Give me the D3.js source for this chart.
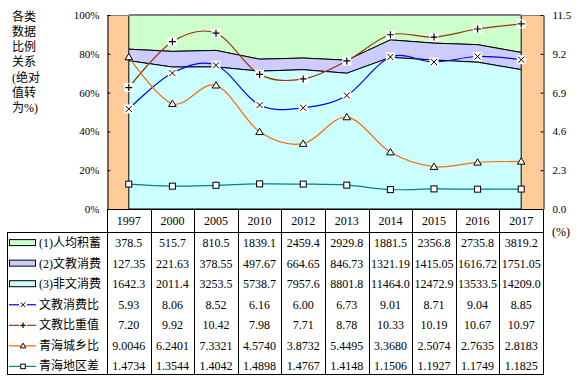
<!DOCTYPE html>
<html><head><meta charset="utf-8">
<script src="https://cdn.jsdelivr.net/npm/d3@7"></script>
<style>
html,body{margin:0;padding:0;background:#fff;}
svg{display:block;}
text{font-family:"Liberation Serif","Times New Roman","Noto Sans CJK SC",serif;fill:#000;}
.cjk{font-family:"Liberation Serif","Noto Sans CJK SC",serif;}
</style>
</head><body>
<svg id="chart" width="582" height="380"></svg>
<script>
const years = ['1997','2000','2005','2010','2012','2013','2014','2015','2016','2017'];
const savings    = [378.5,515.7,810.5,1839.1,2459.4,2929.8,1881.5,2356.8,2735.8,3819.2];
const eduSpend   = [127.35,221.63,378.55,497.67,664.65,846.73,1321.19,1415.05,1616.72,1751.05];
const otherSpend = [1642.3,2011.4,3253.5,5738.7,7957.6,8801.8,11464.0,12472.9,13533.5,14209.0];
const eduRatio   = [5.93,8.06,8.52,6.16,6.00,6.73,9.01,8.71,9.04,8.85];
const eduWeight  = [7.20,9.92,10.42,7.98,7.71,8.78,10.33,10.19,10.67,10.97];
const urbanRural = [9.0046,6.2401,7.3321,4.5740,3.8732,5.4495,3.3680,2.5074,2.7635,2.8183];
const regionGap  = [1.4734,1.3544,1.4042,1.4898,1.4767,1.4148,1.1506,1.1927,1.1749,1.1825];
const leftTicks  = [0,0.2,0.4,0.6,0.8,1.0];
const rightTicks = [0,2.3,4.6,6.9,9.2,11.5];
const titleLines = ['各类','数据','比例','关系','(绝对','值转','为%)'];
const rightUnit = '(%)';

const areaSeries = [
  {name:'(1)人均积蓄', key:'savings', values:savings, fill:'#CCFFCC', fmt:d3.format('.1f')},
  {name:'(2)文教消费', key:'edu', values:eduSpend, fill:'#CCCCFF', fmt:d3.format('.2f')},
  {name:'(3)非文消费', key:'other', values:otherSpend, fill:'#CCFFFF', fmt:d3.format('.1f')}
];
const lineSeries = [
  {name:'文教消费比', values:eduRatio, color:'#0000FF', marker:'x', fmt:d3.format('.2f')},
  {name:'文教比重值', values:eduWeight, color:'#993300', marker:'+', fmt:d3.format('.2f')},
  {name:'青海城乡比', values:urbanRural, color:'#FF6600', marker:'tri', fmt:d3.format('.4f')},
  {name:'青海地区差', values:regionGap, color:'#008080', marker:'sq', fmt:d3.format('.4f')}
];

const svg = d3.select('#chart');
const L = 107, R = 543, T = 15, B = 209;
const x = d3.scaleBand().domain(years).range([L, R]);
const cx = d => x(d) + x.bandwidth()/2;
const yP = d3.scaleLinear().domain([0,1]).range([B, T]);
const yR = d3.scaleLinear().domain([0,11.5]).range([B, T]);

// orange side bands
svg.append('rect').attr('x', L).attr('y', T).attr('width', cx(years[0]) - L).attr('height', B - T).attr('fill', '#FFCC99');
svg.append('rect').attr('x', cx(years[years.length-1])).attr('y', T).attr('width', R - cx(years[years.length-1])).attr('height', B - T).attr('fill', '#FFCC99');

// stacked percent areas
const table = years.map((y,i) => ({year:y, other:otherSpend[i], edu:eduSpend[i], savings:savings[i]}));
const stack = d3.stack().keys(['other','edu','savings']).offset(d3.stackOffsetExpand);
const stacked = stack(table);
const fills = {other:'#CCFFFF', edu:'#CCCCFF', savings:'#CCFFCC'};
const area = d3.area().x(d => cx(d.data.year)).y0(d => yP(d[0])).y1(d => yP(d[1]));
stacked.slice().reverse().forEach(s => {
  svg.append('path').datum(s).attr('d', area).attr('fill', fills[s.key]).attr('stroke', '#000').attr('stroke-width', 1);
});

// plot frame top (gray)
svg.append('line').attr('x1', L).attr('x2', R).attr('y1', T+0.5).attr('y2', T+0.5).attr('stroke', '#808080');

// lines
const line = d3.line().x((d,i) => cx(years[i])).y(d => yR(d)).curve(d3.curveCardinal.tension(0));
lineSeries.forEach(s => {
  svg.append('path').datum(s.values).attr('d', line).attr('fill', 'none').attr('stroke', s.color).attr('stroke-width', 1.2);
});

function drawMarker(g, type, mx, my, small) {
  const k = small ? 0.75 : 1;
  if (type === 'x' || type === '+') {
    if (!small) g.append('rect').attr('x', mx-4.5).attr('y', my-4.5).attr('width', 9).attr('height', 9).attr('fill', '#fff');
    const a = 3*k;
    if (type === 'x') {
      g.append('path').attr('d', `M${mx-a},${my-a}L${mx+a},${my+a}M${mx-a},${my+a}L${mx+a},${my-a}`).attr('stroke', '#000').attr('stroke-width', 1);
    } else {
      g.append('path').attr('d', `M${mx-a-0.5},${my}L${mx+a+0.5},${my}M${mx},${my-a-0.5}L${mx},${my+a+0.5}`).attr('stroke', '#000').attr('stroke-width', 1.2);
    }
  } else if (type === 'tri') {
    const w = 3.8*k, h = 6*k;
    g.append('path').attr('d', `M${mx},${my-h*0.6}L${mx+w},${my+h*0.45}L${mx-w},${my+h*0.45}Z`).attr('fill', '#fff').attr('stroke', '#000').attr('stroke-width', 1);
  } else if (type === 'sq') {
    const a = 3*k;
    g.append('rect').attr('x', mx-a).attr('y', my-a).attr('width', 2*a).attr('height', 2*a).attr('fill', '#fff').attr('stroke', '#000').attr('stroke-width', 1);
  }
}
const mg = svg.append('g');
lineSeries.forEach(s => {
  s.values.forEach((v,i) => drawMarker(mg, s.marker, cx(years[i]), yR(v), false));
});

// axes
const axL = svg.append('g').attr('transform', `translate(${L+0.5},0)`)
  .call(d3.axisLeft(yP).tickValues(leftTicks).tickFormat(d3.format('.0%')).tickSizeInner(-3).tickSizeOuter(0).tickPadding(8));
const axR = svg.append('g').attr('transform', `translate(${R+0.5},0)`)
  .call(d3.axisRight(yR).tickValues(rightTicks).tickFormat(d3.format('.1f')).tickSizeInner(-3).tickSizeOuter(0).tickPadding(9));
[axL, axR].forEach(ax => {
  ax.select('.domain').attr('stroke', '#000');
  ax.selectAll('.tick line').attr('stroke', '#000');
  ax.selectAll('text').style('font-family', '"Liberation Serif", serif').style('font-size', '11px').attr('fill', '#000');
});

// left title
titleLines.forEach((t,i) => {
  svg.append('text').attr('class','cjk').attr('x', 12).attr('y', 16 + i*15.3 + 4.5).attr('font-size', '12px').text(t);
});
svg.append('text').attr('x', 552).attr('y', 236).attr('font-size', '12px').text(rightUnit);

// data table
const tT = 232, tB = 374, tLx = 7;
const g = svg.append('g').attr('shape-rendering', 'crispEdges');
// header row
years.forEach(yv => {
  g.append('line').attr('x1', x(yv)+0.5).attr('x2', x(yv)+0.5).attr('y1', B).attr('y2', tB).attr('stroke', '#000');
});
g.append('line').attr('x1', R+0.5).attr('x2', R+0.5).attr('y1', B).attr('y2', tB).attr('stroke', '#000');
g.append('line').attr('x1', L).attr('x2', R+1).attr('y1', B+0.5).attr('y2', B+0.5).attr('stroke', '#000');
g.append('rect').attr('x', tLx+0.5).attr('y', tT+0.5).attr('width', R - tLx).attr('height', tB - tT).attr('fill', 'none').attr('stroke', '#000');

svg.selectAll('.yr').data(years).enter().append('text')
  .attr('x', d => cx(d)).attr('y', 225).attr('text-anchor', 'middle').attr('font-size', '12px').text(d => d);

const rows = areaSeries.map(s => ({...s, kind:'area'})).concat(lineSeries.map(s => ({...s, kind:'line'})));
rows.forEach((r, ri) => {
  const ry = 242.6 + ri*20.55;
  if (r.kind === 'area') {
    svg.append('rect').attr('x', 9.5).attr('y', ry-3).attr('width', 26).attr('height', 6).attr('fill', r.fill).attr('stroke', '#000').attr('stroke-width', 1);
  } else {
    svg.append('line').attr('x1', 9).attr('x2', 36).attr('y1', ry+0.5).attr('y2', ry+0.5).attr('stroke', r.color).attr('stroke-width', 1.2);
    const lg = svg.append('g');
    if (r.marker === 'x' || r.marker === '+') {
      lg.append('rect').attr('x', 19).attr('y', ry-3).attr('width', 8).attr('height', 7).attr('fill', '#fff');
    }
    drawMarker(lg, r.marker, 23, ry+0.5, true);
  }
  svg.append('text').attr('class','cjk').attr('x', 39).attr('y', ry + 4.5).attr('font-size', '12px').text(r.name);
  r.values.forEach((v,i) => {
    svg.append('text').attr('x', cx(years[i])).attr('y', ry + 4.5).attr('text-anchor', 'middle').attr('font-size', '12px').text(r.fmt(v));
  });
});
</script>
</body></html>
